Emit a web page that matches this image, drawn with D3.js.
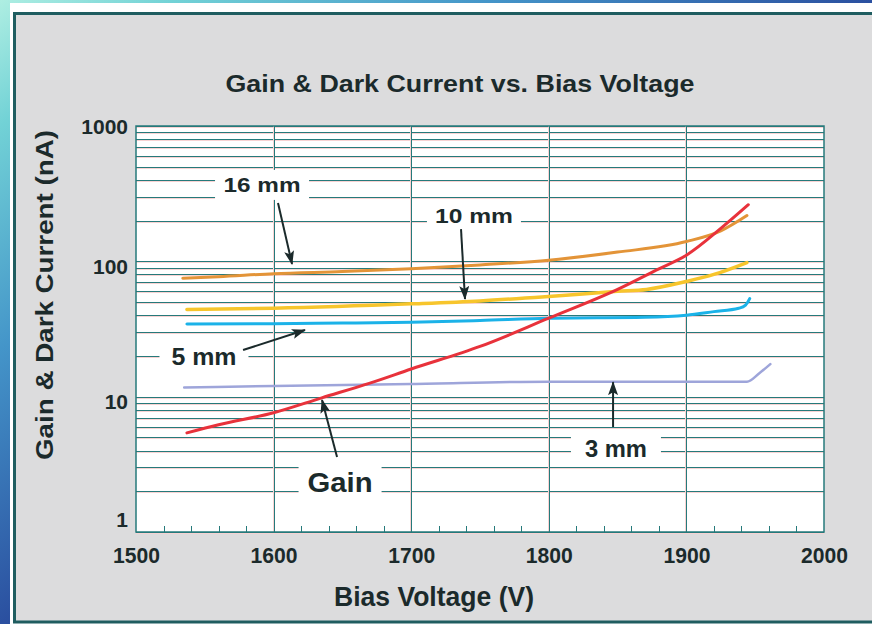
<!DOCTYPE html>
<html>
<head>
<meta charset="utf-8">
<script src="https://cdn.jsdelivr.net/npm/d3@7"></script>
<style>
  html, body { margin: 0; padding: 0; background: #fff; }
  svg { display: block; }
  text { font-family: "Liberation Sans", Arial, Helvetica, sans-serif; font-weight: bold; fill: #1b2a2b; }
</style>
</head>
<body>
<svg id="chart" width="872" height="624"></svg>
<script>
// ---- Data: bias voltage (V) vs. gain and dark current (nA) ----
const voltageTicks = [1500, 1600, 1700, 1800, 1900, 2000];
const currentTicks = [1, 10, 100, 1000];

const gainVolts  = [1537, 1560, 1600, 1635, 1670, 1700, 1750, 1800, 1850, 1880, 1900, 1925, 1945];
const gainValues = [5.4, 6.2, 7.6, 9.8, 12.6, 16.0, 23.5, 38, 62, 88, 111, 175, 262];

const dark16Volts  = [1534, 1560, 1600, 1650, 1700, 1750, 1800, 1850, 1900, 1925, 1944];
const dark16Values = [75, 77, 81, 84, 88, 94, 102, 117, 140, 168, 218];

const dark10Volts  = [1537, 1600, 1700, 1750, 1800, 1850, 1871, 1900, 1920, 1944];
const dark10Values = [44, 45, 48.5, 51, 55, 60, 62, 71, 80, 98];

const dark5Volts  = [1537, 1600, 1650, 1700, 1750, 1800, 1870, 1900, 1920, 1938, 1943, 1946];
const dark5Values = [34.5, 34.6, 35, 35.4, 36.5, 38, 38.6, 40, 42.5, 45, 47.5, 53];

const dark3Volts  = [1535, 1600, 1700, 1800, 1900, 1944, 1953, 1961];
const dark3Values = [11.7, 12.0, 12.4, 12.9, 12.9, 12.9, 14.9, 17.4];

// Callout labels, placed in data space (V, nA), with arrows pointing at their curves
const labelTexts      = ["16 mm", "10 mm", "5 mm", "Gain", "3 mm"];
const labelVolts      = [1591.6, 1745.6, 1549.4, 1648.3, 1848.8];
const labelValues     = [367, 220, 19.7, 2.34, 4.18];
const arrowFromVolts  = [1603.2, 1736.2, 1577.8, 1646.1, 1846.7];
const arrowFromValues = [270, 173, 22.1, 3.58, 5.97];
const arrowToVolts    = [1613.4, 1739.1, 1622.8, 1635.2, 1846.7];
const arrowToValues   = [95.7, 52.7, 31.1, 9.45, 12.8];

// ---- Layout & style ----
const W = 872, H = 624;
const plot = { left: 136, right: 824, top: 126, bottom: 532 };
const gridColor = "#267a7b";
const fringe = "#f8d2d2";
const ink = "#1b2a2b";

const svg = d3.select("#chart");
const defs = svg.append("defs");

const bg = defs.append("linearGradient").attr("id", "bgGrad")
  .attr("x1", 0).attr("y1", 0).attr("x2", 1).attr("y2", 1);
[["0", "#aeeee2"], ["0.1", "#72d2d6"], ["0.28", "#4495c9"], ["0.5", "#2b50a0"], ["1", "#1c3788"]]
  .forEach(([o, c]) => bg.append("stop").attr("offset", o).attr("stop-color", c));

defs.append("marker").attr("id", "head")
  .attr("viewBox", "0 0 14 10").attr("refX", 13).attr("refY", 5)
  .attr("markerWidth", 14).attr("markerHeight", 10)
  .attr("markerUnits", "userSpaceOnUse").attr("orient", "auto")
  .append("path").attr("d", "M0,0 L14,5 L0,10 L3,5 Z").attr("fill", ink);

// backdrop, white frame and grey panel
svg.append("rect").attr("width", W).attr("height", H).attr("fill", "url(#bgGrad)");
svg.append("rect").attr("x", 10).attr("y", 3).attr("width", W).attr("height", H).attr("fill", "#ffffff");
svg.append("rect").attr("x", 14.5).attr("y", 13.5).attr("width", W).attr("height", 608.5)
  .attr("fill", "#dcdcdd").attr("stroke", "#1f5d60").attr("stroke-width", 3);

// ---- Scales ----
const x = d3.scaleLinear().domain([1500, 2000]).range([plot.left, plot.right]);
const y = d3.scaleLog().domain([1, 1000]).range([plot.bottom, plot.top]);

svg.append("rect").attr("x", plot.left).attr("y", plot.top)
  .attr("width", plot.right - plot.left).attr("height", plot.bottom - plot.top).attr("fill", "#ffffff");

// ---- Grid: thin teal rules with a faint pink edge ----
const grid = svg.append("g").attr("shape-rendering", "crispEdges");
const hLines = y.ticks();
const vLines = voltageTicks.slice(1, -1);
hLines.forEach(v => {
  const yy = Math.round(y(v));
  grid.append("line").attr("x1", plot.left).attr("x2", plot.right)
    .attr("y1", yy + 1.5).attr("y2", yy + 1.5).attr("stroke", fringe).attr("stroke-width", 1);
  grid.append("line").attr("x1", plot.left).attr("x2", plot.right)
    .attr("y1", yy + 0.5).attr("y2", yy + 0.5).attr("stroke", gridColor).attr("stroke-width", 1);
});
vLines.forEach(v => {
  const xx = Math.round(x(v));
  grid.append("line").attr("y1", plot.top).attr("y2", plot.bottom)
    .attr("x1", xx - 0.5).attr("x2", xx - 0.5).attr("stroke", fringe).attr("stroke-width", 1);
  grid.append("line").attr("y1", plot.top).attr("y2", plot.bottom)
    .attr("x1", xx + 0.5).attr("x2", xx + 0.5).attr("stroke", gridColor).attr("stroke-width", 1);
});

// minor ticks along the bottom edge, every 20 V
d3.range(1520, 2000, 20).filter(v => v % 100 !== 0).forEach(v => {
  const xx = Math.round(x(v)) + 0.5;
  grid.append("line").attr("x1", xx).attr("x2", xx)
    .attr("y1", plot.bottom).attr("y2", plot.bottom - 6)
    .attr("stroke", gridColor).attr("stroke-width", 1);
});

// plot frame
svg.append("rect").attr("x", plot.left).attr("y", plot.top)
  .attr("width", plot.right - plot.left).attr("height", plot.bottom - plot.top)
  .attr("fill", "none").attr("stroke", gridColor).attr("stroke-width", 1.5);

// ---- Axes ----
const xAxis = svg.append("g").attr("transform", `translate(0,${plot.bottom})`)
  .call(d3.axisBottom(x).tickValues(voltageTicks).tickSize(0).tickFormat(d3.format("d")));
xAxis.select(".domain").remove();
xAxis.selectAll("text").attr("y", 31).attr("dy", 0)
  .style("font-size", "22px").attr("fill", ink)
  .attr("textLength", 47).attr("lengthAdjust", "spacingAndGlyphs");

const yLabelShift = { 1000: 0, 100: 5, 10: 4, 1: -13 };
const yAxis = svg.append("g").attr("transform", `translate(${plot.left},0)`)
  .call(d3.axisLeft(y).tickValues(currentTicks).tickSize(0).tickFormat(d3.format("d")));
yAxis.select(".domain").remove();
yAxis.selectAll("text").attr("x", -8).attr("dy", d => (yLabelShift[d] + 7.5) + "px")
  .style("font-size", "21px").attr("fill", ink);

// titles
svg.append("text").attr("x", 460).attr("y", 92).attr("text-anchor", "middle")
  .style("font-size", "24px").attr("textLength", 469).attr("lengthAdjust", "spacingAndGlyphs")
  .text("Gain & Dark Current vs. Bias Voltage");
svg.append("text").attr("x", 434).attr("y", 606).attr("text-anchor", "middle")
  .style("font-size", "27px").attr("textLength", 200).attr("lengthAdjust", "spacingAndGlyphs")
  .text("Bias Voltage (V)");
svg.append("text").attr("transform", "translate(53,295) rotate(-90)").attr("text-anchor", "middle")
  .style("font-size", "24px").attr("textLength", 330).attr("lengthAdjust", "spacingAndGlyphs")
  .text("Gain & Dark Current (nA)");

// ---- Curves ----
const line = d3.line().x(d => x(d[0])).y(d => y(d[1])).curve(d3.curveMonotoneX);
const series = [
  { volts: dark3Volts,  values: dark3Values,  color: "#9ea5da", width: 2.5 },
  { volts: dark5Volts,  values: dark5Values,  color: "#1bb2e8", width: 3 },
  { volts: dark10Volts, values: dark10Values, color: "#f7c52c", width: 3.5 },
  { volts: dark16Volts, values: dark16Values, color: "#e39438", width: 3 },
  { volts: gainVolts,   values: gainValues,   color: "#e8323b", width: 3 }
];
series.forEach(s => {
  svg.append("path").datum(d3.zip(s.volts, s.values))
    .attr("d", line).attr("fill", "none")
    .attr("stroke", s.color).attr("stroke-width", s.width)
    .attr("stroke-linecap", "round").attr("stroke-linejoin", "round");
});

// ---- Callouts ----
const boxW = [94, 94, 89, 83, 90];
const boxH = [30, 24, 26, 40, 30];
const fontSz = [21, 21, 23, 28, 24];
const textW = [77, 78, 65, 65, 62];
labelTexts.forEach((t, i) => {
  const cx = x(labelVolts[i]), cy = y(labelValues[i]);
  svg.append("rect").attr("x", cx - boxW[i] / 2).attr("y", cy - boxH[i] / 2)
    .attr("width", boxW[i]).attr("height", boxH[i]).attr("fill", "#ffffff");
  svg.append("text").attr("x", cx).attr("y", cy).attr("dy", "0.36em")
    .attr("text-anchor", "middle").style("font-size", fontSz[i] + "px")
    .attr("textLength", textW[i]).attr("lengthAdjust", "spacingAndGlyphs")
    .text(t);
  svg.append("line")
    .attr("x1", x(arrowFromVolts[i])).attr("y1", y(arrowFromValues[i]))
    .attr("x2", x(arrowToVolts[i])).attr("y2", y(arrowToValues[i]))
    .attr("stroke", ink).attr("stroke-width", 2).attr("marker-end", "url(#head)");
});
</script>
</body>
</html>
